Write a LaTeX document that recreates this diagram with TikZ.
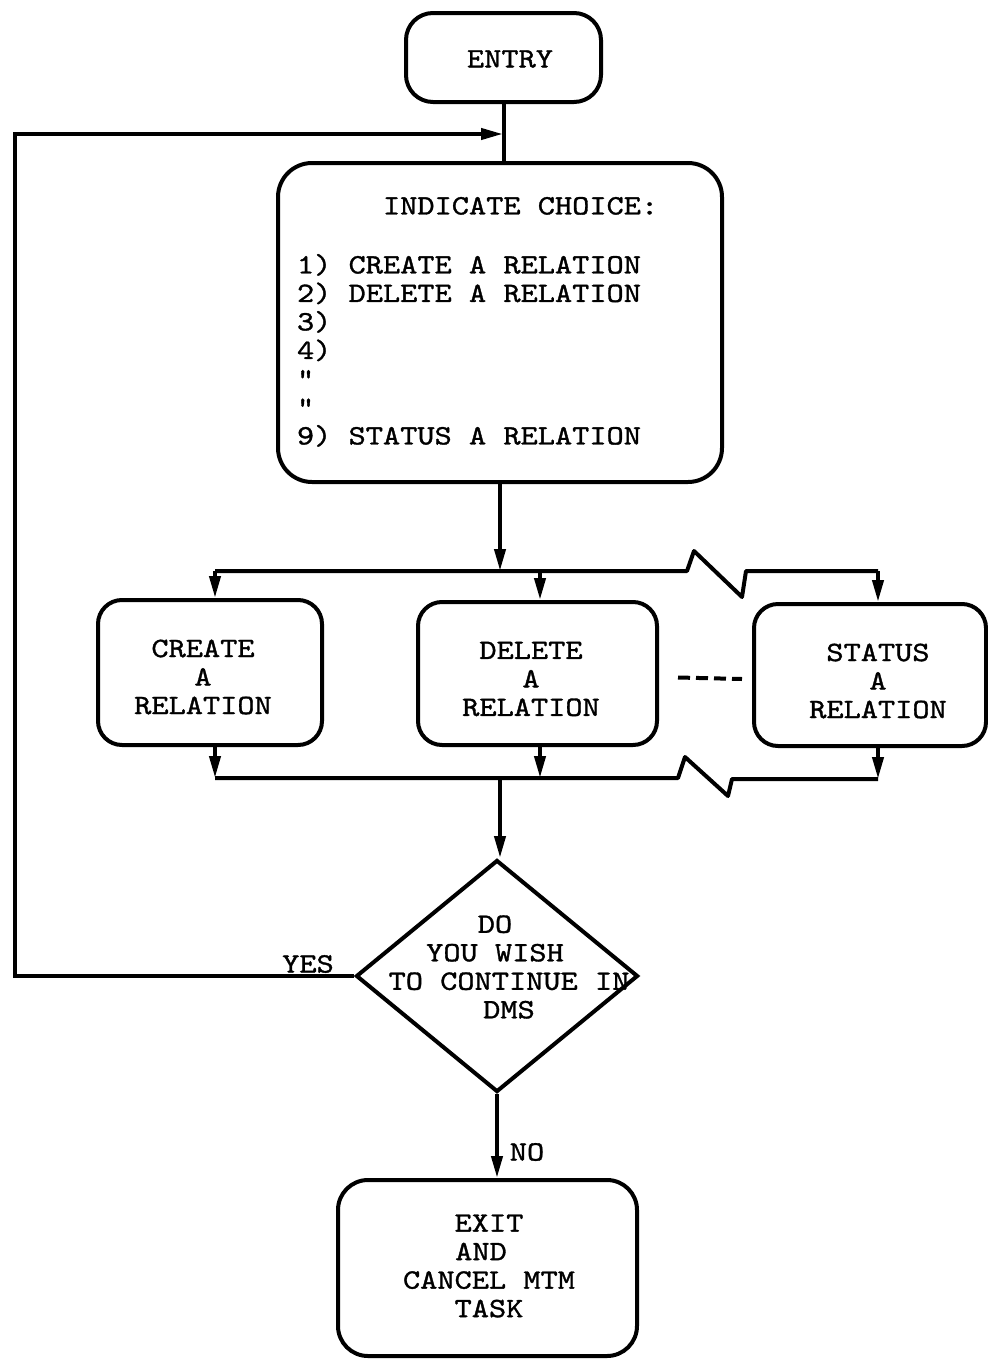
\documentclass[tikz,border=0pt]{standalone}
\usepackage{fontspec}
\newfontfamily\tw{lmmono10-regular.otf}[FakeStretch=1.17,FakeBold=1.2]
\usetikzlibrary{shapes.geometric,arrows.meta}
\begin{document}
\begin{tikzpicture}[x=0.5pt,y=-0.5pt,line width=2pt,
  txt/.style={font=\tw\fontsize{14}{14.25}\selectfont,inner sep=0pt,align=center},
  box/.style={draw,rounded corners=12pt,inner sep=0pt},
  flow/.style={-{Triangle[length=11pt,width=5.5pt]}},
  zig/.style={line join=round}]
\useasboundingbox (0,0) rectangle (988,1360);

% boxes
\node[box,rounded corners=13.5pt,minimum width=97.5pt,minimum height=44.5pt] (entry) at (503.5,57.5) {};
\node[txt] (entrytxt) at (510,59) {ENTRY};

\node[box,rounded corners=17pt,minimum width=222pt,minimum height=159.5pt] (choice) at (500,322.5) {};
\node[txt,align=left,anchor=north west] (menu) at (295,195)
  {\hspace*{43pt}INDICATE CHOICE:\\[15.25pt]1) CREATE A RELATION\\2) DELETE A RELATION\\3)\\4)\\"\\"\\9) STATUS A RELATION};

\node[box,minimum width=112pt,minimum height=72.5pt] (create) at (210,672.5) {};
\node[txt] (createtxt) at (203,677) {CREATE\\A\\RELATION};

\node[box,minimum width=119.5pt,minimum height=71.5pt] (delete) at (537.5,673.5) {};
\node[txt] (deletetxt) at (531,679) {DELETE\\A\\RELATION};

\node[box,minimum width=116pt,minimum height=71pt] (status) at (870,675) {};
\node[txt] (statustxt) at (878,681) {STATUS\\A\\RELATION};

\node[draw,diamond,minimum width=141pt,minimum height=116pt,inner sep=0pt] (dec) at (497,976) {};
\node[txt] (dectxt) at (509,967) {DO\rule{14pt}{0pt}\\YOU WISH\rule{14pt}{0pt}\\TO CONTINUE IN\\DMS};

\node[box,rounded corners=15pt,minimum width=149.5pt,minimum height=88pt] (exit) at (487.5,1268) {};
\node[txt] (exittxt) at (489,1266) {EXIT\\AND\rule{8pt}{0pt}\\CANCEL MTM\\TASK};

\node[txt] (yes) at (308,964) {YES};
\node[txt] (no) at (527,1152) {NO};

% junction points
\coordinate (loopin) at (503,134);
\coordinate (loopcorner) at (15,134);
\coordinate (tbL) at (215,571);
\coordinate (tbD) at (540,571);
\coordinate (tbR) at (878,571);
\coordinate (bbL) at (215,778);
\coordinate (bbD) at (540,778);
\coordinate (bbR) at (878,779);

% connectors
\draw (entry.south) -- (entry.south |- choice.north);
\draw[flow] (dec.west) -| (loopcorner) -- (loopin);
\draw[flow] (choice.south) -- (choice.south |- tbL);

\draw[zig] (tbL) -- (687,571) -- (694,551) -- (742,597) -- (746,571) -- (tbR);
\draw[flow] (tbL) -- (tbL |- create.north);
\draw[flow] (tbD) -- (tbD |- delete.north);
\draw[flow] (tbR) -- (tbR |- status.north);

\draw[flow] (create.south -| bbL) -- (bbL);
\draw[flow] (delete.south -| bbD) -- (bbD);
\draw[flow] (status.south -| bbR) -- (bbR);
\draw[zig] (bbL) -- (678,778) -- (685,757) -- (728,796) -- (732,779) -- (bbR);

\draw[dash pattern=on 6pt off 3pt] ([xshift=9.5pt,yshift=-2pt]delete.east) -- ([xshift=-5pt,yshift=-2pt]status.west);

\draw[flow] (choice.south |- bbL) -- (choice.south |- dec.north);
\draw[flow] (dec.south) -- (dec.south |- exit.north);
\end{tikzpicture}
\end{document}
